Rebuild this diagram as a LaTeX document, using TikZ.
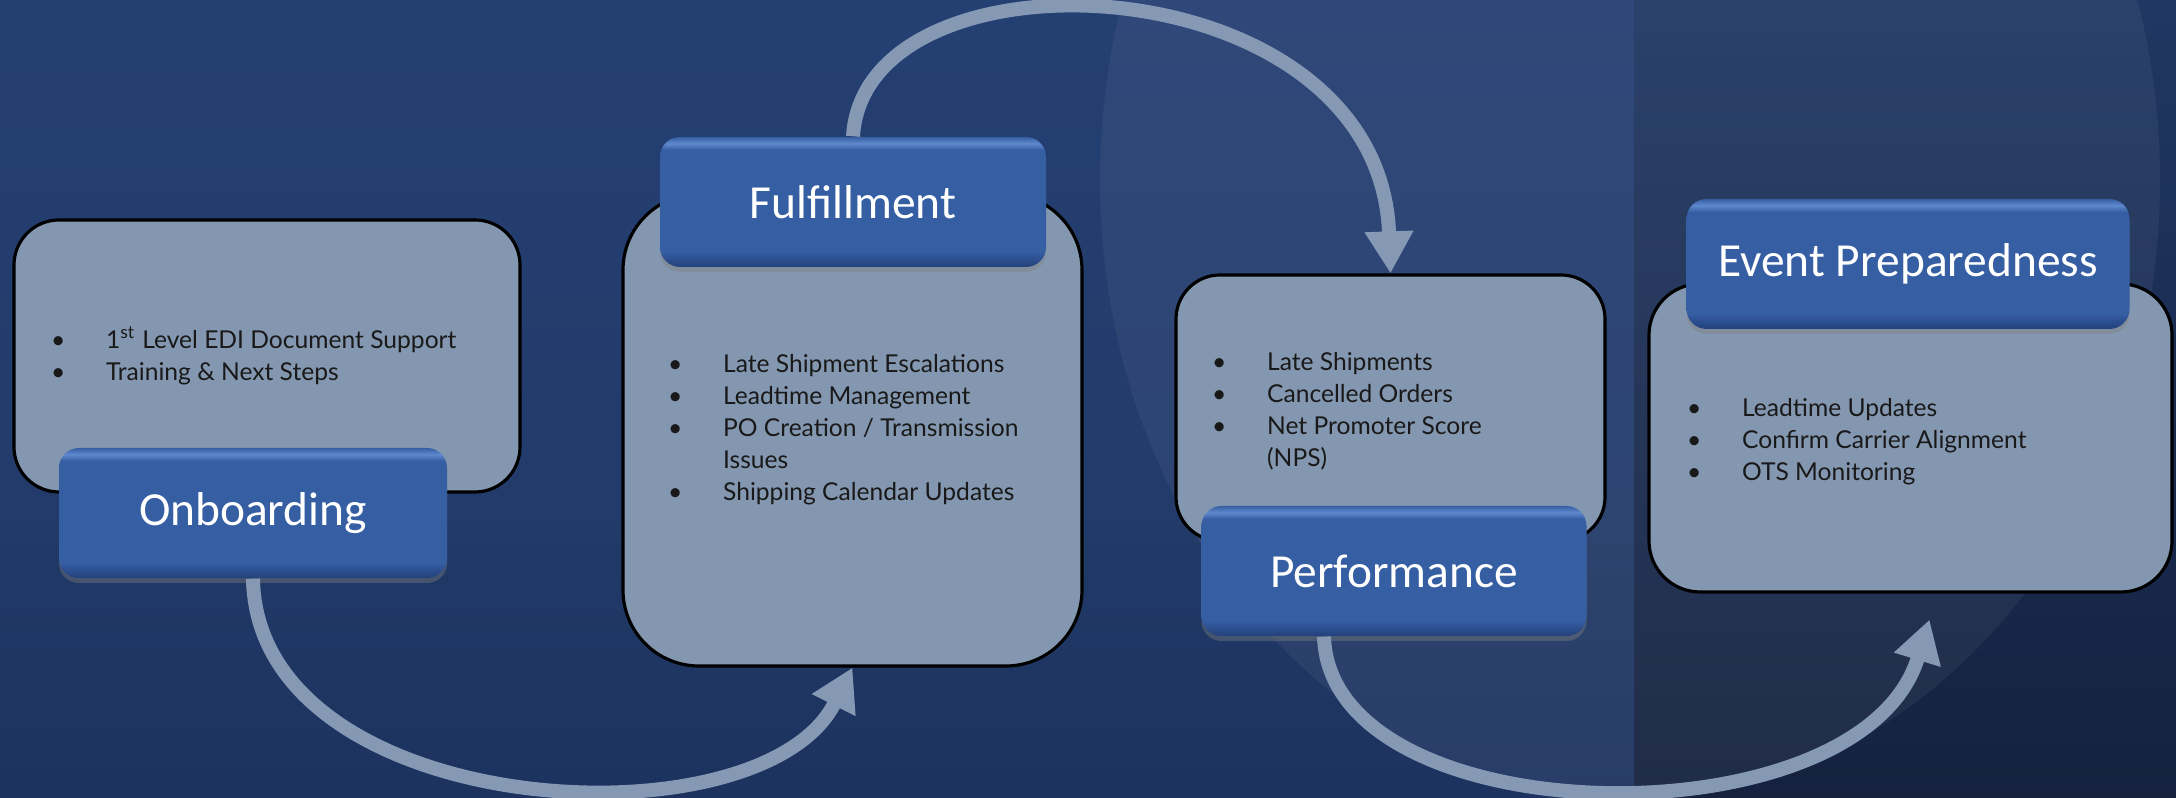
\documentclass[tikz,border=0pt]{standalone}
\usepackage{fontspec}
\setmainfont{Carlito}
\newfontfamily\itemfont{Lato}
\usepackage{tikz}
\usetikzlibrary{arrows.meta, positioning, shadows}

\definecolor{panelfill}{HTML}{8497B0}
\definecolor{flowgray}{HTML}{8599B4}
\definecolor{tabfill}{HTML}{365EA3}
\definecolor{tablight}{HTML}{5F89CD}
\definecolor{tabdark}{HTML}{22417A}
\definecolor{tabedge}{HTML}{2B4F8F}
\definecolor{bgtl}{HTML}{243F72}
\definecolor{bgtlb}{HTML}{223B6A}
\definecolor{bgbl}{HTML}{213A68}
\definecolor{bgblb}{HTML}{1D325E}
\definecolor{bgtr}{HTML}{203763}
\definecolor{bgbr}{HTML}{15213F}

% bevel of the title tabs: dark lower rim, light upper rim
\pgfdeclareverticalshading{tabshade}{100bp}{color(0bp)=(tabdark); color(25bp)=(tabdark);
  color(28bp)=(tabedge); color(31bp)=(tabfill); color(70bp)=(tabfill);
  color(72.5bp)=(tablight); color(75bp)=(tabfill); color(100bp)=(tabfill)}

\newcommand{\bul}{\makebox[0.55cm][l]{\textbullet}}
\newcommand{\nobul}{\hspace*{0.55cm}}

\begin{document}
\begin{tikzpicture}[
  panel/.style={draw=black, line width=0.9pt, fill=panelfill},
  tag/.style={shade, shading=tabshade, rounded corners=0.2cm, minimum height=1.3cm,
              text=white, font=\fontsize{13.5}{16}\selectfont,
              drop shadow={opacity=0.4, shadow xshift=0pt, shadow yshift=-0.05cm}},
  items/.style={inner sep=0pt, align=left, text=black!90,
                font=\itemfont\fontsize{7}{9.1}\selectfont},
  flow/.style={draw=flowgray, line width=0.14cm,
               -{Triangle[width=0.46cm, length=0.42cm]}}
]
\useasboundingbox (0,0) rectangle (21.76,7.98);

% background
\shade[top color=bgtl, bottom color=bgtlb] (0,2.74) rectangle (16.34,7.98);
\shade[top color=bgbl, bottom color=bgblb] (0,0) rectangle (16.34,2.74);
\shade[top color=bgtr, bottom color=bgbr] (16.34,0) rectangle (21.76,7.98);
\begin{scope}
  \clip (0,0) rectangle (21.76,7.98);
  \fill[white, opacity=0.05] (16.3,6.18) ellipse [x radius=5.3, y radius=6.2];
\end{scope}

% content panels
\node[panel, minimum width=5.06cm, minimum height=2.72cm, rounded corners=0.45cm] (onb)  at (2.67,4.42)   {};
\node[panel, minimum width=4.59cm, minimum height=4.72cm, rounded corners=0.76cm] (ful)  at (8.525,3.68)  {};
\node[panel, minimum width=4.29cm, minimum height=2.66cm, rounded corners=0.44cm] (perf) at (13.905,3.90) {};
\node[panel, minimum width=5.23cm, minimum height=3.08cm, rounded corners=0.51cm] (evt)  at (19.105,3.60) {};

\node[items, right=0.38cm of onb.west] (onbtext)
  {\bul 1\textsuperscript{st} Level EDI Document Support\\
   \bul Training \& Next Steps};
\node[items, right=0.46cm of ful.west] (fultext)
  {\bul Late Shipment Escalations\\
   \bul Leadtime Management\\
   \bul PO Creation / Transmission\\
   \nobul Issues\\
   \bul Shipping Calendar Updates};
\node[items, right=0.37cm of perf.west, yshift=-0.03cm] (perftext)
  {\bul Late Shipments\\
   \bul Cancelled Orders\\
   \bul Net Promoter Score\\
   \nobul (NPS)};
\node[items, right=0.39cm of evt.west, yshift=-0.04cm] (evttext)
  {\bul Leadtime Updates\\
   \bul Confirm Carrier Alignment\\
   \bul OTS Monitoring};

% title tabs
\node[tag, minimum width=3.88cm] (onbtag)  at (2.53,2.85)  {Onboarding};
\node[tag, minimum width=3.86cm] (fultag)  at (8.53,5.96)  {Fulfillment};
\node[tag, minimum width=3.85cm] (perftag) at (13.94,2.27) {Performance};
\node[tag, minimum width=4.43cm] (evttag)  at (19.08,5.34) {Event Preparedness};

% cycle arrows
\draw[flow] (onbtag.south) .. controls +(0.04,-2.42) and +(-0.92,-1.83) .. (ful.south);
\draw[flow] (fultag.north) .. controls +(0.12,1.98) and +(-0.11,3.13) .. (perf.north);
\draw[flow] ([xshift=-0.7cm]perftag.south) .. controls +(0.06,-2.0) and +(-0.69,-2.27)
  .. ([shift={(0.19,-0.26)}]evt.south);

\end{tikzpicture}
\end{document}
